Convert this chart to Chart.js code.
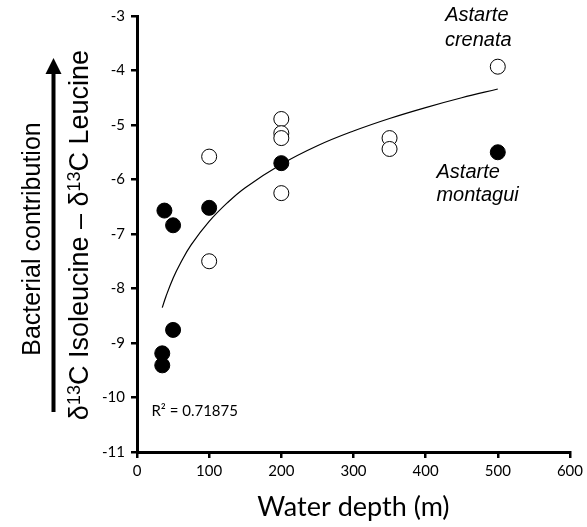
<!DOCTYPE html>
<html>
<head>
<meta charset="utf-8">
<script src="https://cdn.jsdelivr.net/npm/chart.js@4.4.0/dist/chart.umd.min.js"></script>
<style>
    html, body { margin: 0; padding: 0; background: #ffffff; }
    #wrap { width: 587px; height: 527px; position: relative; }
</style>
</head>
<body>
<div id="wrap"><canvas id="depthChart"></canvas></div>
<script>
// Water depth vs. d13C(Ile) - d13C(Leu)

// Astarte crenata (open circles)
const crenataDepth = [500, 200, 200, 200, 100, 350, 350, 200, 100];
const crenataValue = [-3.93, -4.89, -5.15, -5.24, -5.58, -5.24, -5.44, -6.25, -7.50];

// Astarte montagui (filled circles)
const montaguiDepth = [500, 200, 100, 38, 50, 50, 35, 35];
const montaguiValue = [-5.50, -5.70, -6.52, -6.57, -6.84, -8.76, -9.19, -9.41];

// Log trend line
const trendDepth = [35, 40, 50, 60, 75, 100, 125, 150, 200, 250, 300, 350, 400, 450, 500];
const trendValue = [-8.35, -8.15, -7.81, -7.54, -7.20, -6.77, -6.43, -6.15, -5.72, -5.38, -5.11, -4.88, -4.68, -4.50, -4.34];

const xTicks = [0, 100, 200, 300, 400, 500, 600];
const yTicks = [-11, -10, -9, -8, -7, -6, -5, -4, -3];

const tickFont = 'Lato, "Open Sans", sans-serif';
const titleFont = '"Liberation Sans", Arial, sans-serif';

function toPoints(xs, ys) {
    return xs.map((x, i) => ({ x: x, y: ys[i] }));
}

// Y title with superscripts, arrow, and text labels
const decorations = {
    id: 'decorations',
    afterDraw(chart) {
        const ctx = chart.ctx;
        const xs = chart.scales.x;
        const ys = chart.scales.y;

        ctx.save();
        ctx.fillStyle = '#000';

        // rotated titles
        ctx.save();
        ctx.translate(40, 239);
        ctx.rotate(-Math.PI / 2);
        ctx.font = '25px ' + titleFont;
        ctx.textAlign = 'center';
        ctx.textBaseline = 'alphabetic';
        ctx.fillText('Bacterial contribution', 0, 0);
        ctx.restore();

        ctx.save();
        ctx.translate(88, 235);
        ctx.rotate(-Math.PI / 2);
        ctx.textBaseline = 'alphabetic';
        const parts = [
            ['δ', false], ['13', true], ['C Isoleucine – δ', false], ['13', true], ['C Leucine', false]
        ];
        const big = '27px ' + titleFont;
        const small = '18px ' + titleFont;
        let total = 0;
        parts.forEach(p => {
            ctx.font = p[1] ? small : big;
            total += ctx.measureText(p[0]).width;
        });
        let pos = -total / 2;
        ctx.textAlign = 'left';
        parts.forEach(p => {
            ctx.font = p[1] ? small : big;
            ctx.fillText(p[0], pos, p[1] ? -8 : 0);
            pos += ctx.measureText(p[0]).width;
        });
        ctx.restore();

        // arrow
        ctx.strokeStyle = '#000';
        ctx.lineWidth = 4;
        ctx.beginPath();
        ctx.moveTo(53.5, 412);
        ctx.lineTo(53.5, 70);
        ctx.stroke();
        ctx.beginPath();
        ctx.moveTo(53.5, 58);
        ctx.lineTo(45.5, 74);
        ctx.lineTo(61.5, 74);
        ctx.closePath();
        ctx.fill();

        // species labels
        ctx.textBaseline = 'middle';
        ctx.textAlign = 'center';
        ctx.font = 'italic 20px ' + titleFont;
        ctx.fillText('Astarte', xs.getPixelForValue(471), 15);
        ctx.fillText('crenata', xs.getPixelForValue(473), 40);
        ctx.fillText('Astarte', xs.getPixelForValue(459), 172);
        ctx.fillText('montagui', xs.getPixelForValue(472), 195);

        // R squared
        ctx.textAlign = 'left';
        ctx.font = '15px ' + tickFont;
        ctx.fillText('R² = 0.71875', xs.getPixelForValue(20), ys.getPixelForValue(-10.25));
        ctx.restore();
    }
};

const chart = new Chart(document.getElementById('depthChart'), {
    type: 'scatter',
    data: {
        datasets: [
            {
                type: 'line',
                label: 'Trend',
                data: toPoints(trendDepth, trendValue),
                borderColor: '#000',
                borderWidth: 1.2,
                pointRadius: 0,
                tension: 0.4,
                fill: false,
                order: 3
            },
            {
                label: 'Astarte crenata',
                data: toPoints(crenataDepth, crenataValue),
                backgroundColor: '#ffffff',
                borderColor: '#000',
                borderWidth: 1,
                pointRadius: 7.5,
                order: 2
            },
            {
                label: 'Astarte montagui',
                data: toPoints(montaguiDepth, montaguiValue),
                backgroundColor: '#000',
                borderColor: '#000',
                borderWidth: 1,
                pointRadius: 7.5,
                order: 1
            }
        ]
    },
    options: {
        responsive: true,
        maintainAspectRatio: false,
        animation: false,
        layout: { padding: { top: 16, right: 14, left: 0, bottom: 0 } },
        plugins: {
            legend: { display: false },
            tooltip: { enabled: false }
        },
        scales: {
            x: {
                type: 'linear',
                min: 0,
                max: 600,
                afterBuildTicks: s => { s.ticks = xTicks.map(v => ({ value: v })); },
                afterFit: s => { s.height = 75; },
                border: { color: '#000', width: 3 },
                grid: { drawOnChartArea: false, color: '#000', tickLength: 6, lineWidth: 2.5 },
                ticks: { color: '#000', font: { family: tickFont, size: 15 }, padding: 4 },
                title: {
                    display: true,
                    text: 'Water depth (m)',
                    color: '#000',
                    font: { family: tickFont, size: 27 },
                    padding: { top: 0 }
                }
            },
            y: {
                type: 'linear',
                min: -11,
                max: -3,
                afterBuildTicks: s => { s.ticks = yTicks.map(v => ({ value: v })); },
                afterFit: s => { s.width = 137; },
                border: { color: '#000', width: 3 },
                grid: { drawOnChartArea: false, color: '#000', tickLength: 6, lineWidth: 2.5 },
                ticks: { color: '#000', font: { family: tickFont, size: 15 }, padding: 6 }
            }
        }
    },
    plugins: [decorations]
});
</script>
</body>
</html>
